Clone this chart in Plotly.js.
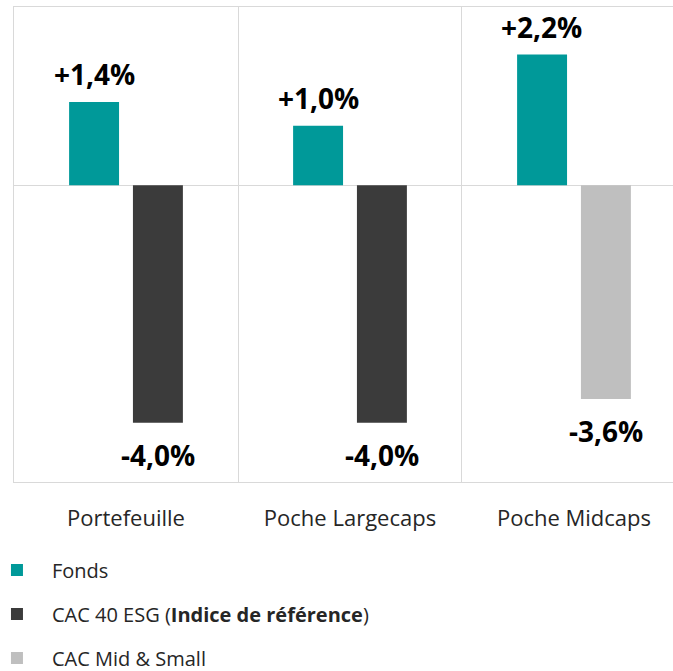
<!DOCTYPE html>
<html>
<head>
<meta charset="utf-8">
<script src="https://cdn.plot.ly/plotly-3.0.1.min.js"></script>
<style>html,body{margin:0;padding:0;background:#fff;}#chart{width:673px;height:671px;}</style>
</head>
<body>
<div id="chart"></div>
<script>
const categories = ['Portefeuille', 'Poche Largecaps', 'Poche Midcaps'];
const fonds = [1.4, 1.0, 2.2];
const cac40Esg = [-4.0, -4.0, null];
const cacMidSmall = [null, null, -3.6];
const seriesNames = ['Fonds', 'CAC 40 ESG (<b>Indice de référence</b>)', 'CAC Mid &amp; Small'];

const colors = ['#009999', '#3b3b3b', '#bfbfbf'];
const fmt = v => (v > 0 ? '+' : '') + v.toFixed(1).replace('.', ',') + '%';

const barW = 0.223;
const traces = [
  {type: 'bar', name: seriesNames[0], x: categories, y: fonds, offset: -0.254, width: barW,
   marker: {color: colors[0]}, legendgroup: 'a', hoverinfo: 'skip'},
  {type: 'bar', name: seriesNames[1], x: categories, y: cac40Esg, offset: 0.031, width: barW,
   marker: {color: colors[1]}, legendgroup: 'b', hoverinfo: 'skip'},
  {type: 'bar', name: seriesNames[2], x: categories, y: cacMidSmall, offset: 0.031, width: barW,
   marker: {color: colors[2]}, legendgroup: 'c', hoverinfo: 'skip'}
];

const annotations = [];
[[fonds, -32], [cac40Esg, 32], [cacMidSmall, 32]].forEach(([arr, dx]) => {
  arr.forEach((v, i) => {
    if (v === null) return;
    annotations.push({
      x: categories[i], y: v, xref: 'x', yref: 'y', text: '<b>' + fmt(v) + '</b>',
      showarrow: false, xshift: dx,
      yanchor: v > 0 ? 'bottom' : 'top', yshift: v > 0 ? 7 : -11,
      font: {family: 'Open Sans, sans-serif', size: 28, color: '#000'}
    });
  });
});

const layout = {
  width: 673, height: 671,
  margin: {l: 14, r: 0, t: 7, b: 188.5, autoexpand: false},
  paper_bgcolor: '#fff', plot_bgcolor: '#fff',
  barmode: 'overlay',
  font: {family: 'Open Sans, sans-serif', color: '#262626'},
  xaxis: {
    type: 'category', range: [-0.5, 2.442], tickson: 'boundaries', automargin: false,
    showgrid: true, gridcolor: '#d9d9d9', gridwidth: 1,
    showline: true, mirror: true, linecolor: '#d9d9d9', linewidth: 1,
    ticks: '', ticklabelstandoff: 17,
    tickfont: {family: 'Open Sans, sans-serif', size: 22, color: '#262626'}
  },
  yaxis: {
    range: [-5, 3], showgrid: false, zeroline: true, zerolinecolor: '#d9d9d9', zerolinewidth: 1,
    showline: true, linecolor: '#d9d9d9', showticklabels: false, ticks: '', automargin: false
  },
  showlegend: true,
  legend: {
    orientation: 'v', xref: 'paper', yref: 'paper', x: -0.0486, xanchor: 'left', y: -0.144, yanchor: 'top',
    traceorder: 'grouped', tracegroupgap: 15, itemwidth: 60,
    font: {family: 'Open Sans, sans-serif', size: 20, color: '#262626'}
  },
  annotations: annotations
};

Plotly.newPlot('chart', traces, layout, {displayModeBar: false, staticPlot: true});
</script>
</body>
</html>
